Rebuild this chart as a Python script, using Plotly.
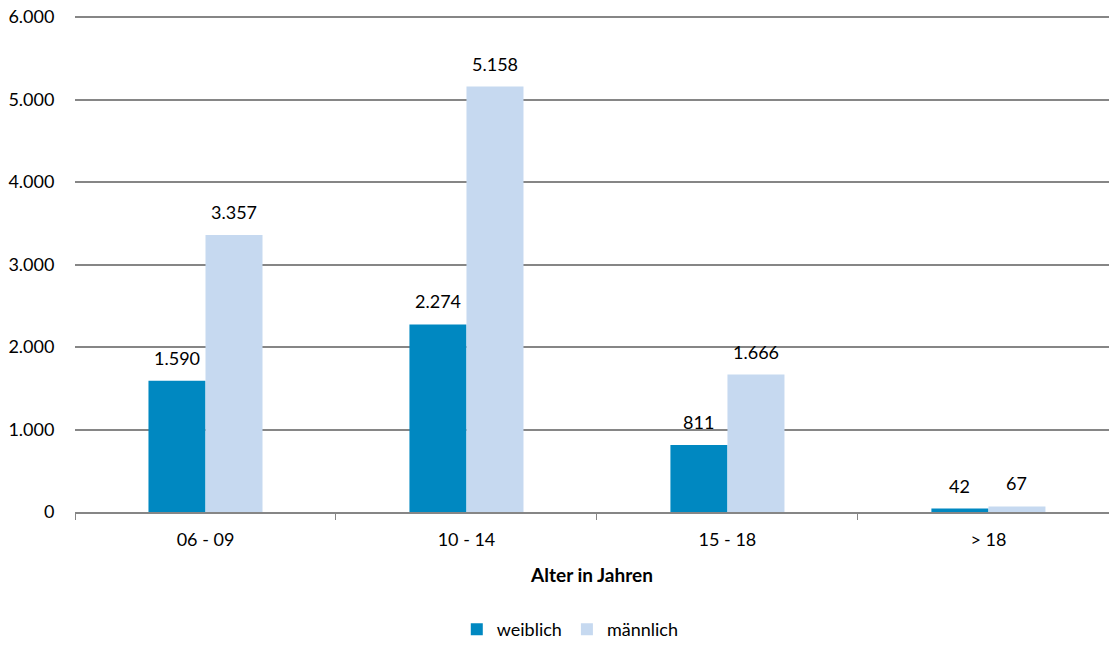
import plotly.graph_objects as go

categories = ["06 - 09", "10 - 14", "15 - 18", "> 18"]
weiblich = [1590, 2274, 811, 42]
maennlich = [3357, 5158, 1666, 67]
y_ticks = [0, 1000, 2000, 3000, 4000, 5000, 6000]
y_tick_text = ["0", "1.000", "2.000", "3.000", "4.000", "5.000", "6.000"]

font_family = "Lato, 'Open Sans', sans-serif"
col_w = "#0088C1"
col_m = "#C6D9F0"

fig = go.Figure()
fig.add_trace(go.Bar(name="weiblich", x=categories, y=weiblich,
                     marker=dict(color=col_w, line=dict(width=0))))
fig.add_trace(go.Bar(name="männlich", x=categories, y=maennlich,
                     marker=dict(color=col_m, line=dict(width=0))))

# value labels above each bar, lifted a little off the bar top
half_bar_px = 28.5
for series, shift in ((weiblich, -half_bar_px), (maennlich, half_bar_px)):
    for cat, val in zip(categories, series):
        fig.add_annotation(
            x=cat, y=val, xref="x", yref="y",
            text=f"{val:,}".replace(",", "."),
            showarrow=False, xanchor="center", yanchor="bottom",
            xshift=shift, yshift=10,
            font=dict(size=18, color="#000000", family=font_family),
        )

fig.update_layout(
    width=1109, height=648,
    margin=dict(l=75, r=0, t=13, b=135),
    paper_bgcolor="white", plot_bgcolor="white",
    barmode="group", bargap=0.563, bargroupgap=0,
    font=dict(family=font_family, size=18, color="#000000"),
    showlegend=True,
    legend=dict(orientation="h", x=0.479, xanchor="center", y=-0.2722, yanchor="bottom",
                font=dict(size=18), traceorder="normal", itemwidth=30,
                borderwidth=0, tracegroupgap=0),
    xaxis=dict(
        type="category", range=[-0.5, 3.462], automargin=False,
        tickson="boundaries", ticks="outside", ticklen=6,
        tickcolor="#868686", showline=True, linecolor="#868686", linewidth=2,
        showgrid=False, tickfont=dict(size=18), ticklabelstandoff=10,
        title=dict(text="<b>Alter in Jahren</b>", font=dict(size=19), standoff=20),
    ),
    yaxis=dict(
        range=[0, 6050], tickvals=y_ticks, ticktext=y_tick_text,
        showgrid=True, gridcolor="#868686", gridwidth=2,
        zeroline=False, showline=False,
        ticks="outside", ticklen=16, tickcolor="rgba(0,0,0,0)",
        tickfont=dict(size=18), automargin=False,
    ),
)

fig.write_html("out.html")
